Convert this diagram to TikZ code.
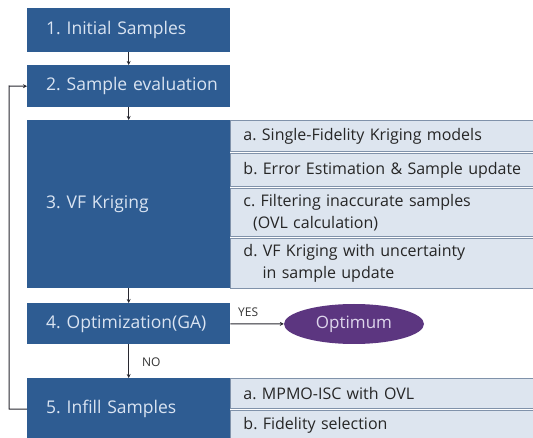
\documentclass[tikz,border=0pt]{standalone}
\usepackage{fontspec}
\setmainfont{Open Sans}
\usetikzlibrary{arrows.meta,shapes.geometric}
\definecolor{boxblue}{RGB}{46,92,146}
\definecolor{boxtext}{RGB}{218,228,242}
\definecolor{rowfill}{RGB}{221,229,239}
\definecolor{rowline}{RGB}{128,146,170}
\definecolor{optpurple}{RGB}{92,54,128}
\definecolor{opttext}{RGB}{222,214,236}
\definecolor{linecol}{RGB}{40,40,48}
\begin{document}
\frenchspacing
\begin{tikzpicture}[x=1pt,y=-1pt,
  mainbox/.style={rectangle, fill=boxblue, text=boxtext, anchor=north west,
    minimum width=203pt, text width=165pt, inner xsep=19pt, inner ysep=0pt, align=left,
    font=\fontsize{17.5}{20}\selectfont},
  rowbox/.style={rectangle, fill=rowfill, draw=rowline, line width=0.9pt, anchor=north west,
    minimum width=303pt, text width=287pt, inner xsep=13pt, inner ysep=0pt, align=left,
    font=\fontsize{16}{22}\selectfont, text=black!85},
  conn/.style={draw=linecol, line width=1pt, -{Stealth[length=4pt,width=4pt]}},
  lbl/.style={font=\fontsize{12}{14}\selectfont, text=black!80, inner sep=0pt}]
\useasboundingbox (0,0) rectangle (533,438);
% rows
\node[rowbox, minimum height=31pt] (r3a) at (230,120) {a. Single-Fidelity Kriging models};
\node[rowbox, minimum height=33pt] (r3b) at (230,153) {b. Error Estimation \& Sample update};
\node[rowbox, minimum height=48pt] (r3c) at (230,188) {c. Filtering inaccurate samples\\\hspace*{0.6em}(OVL calculation)};
\node[rowbox, minimum height=50pt] (r3d) at (230,238) {d. VF Kriging with uncertainty\\\hspace*{1.2em}in sample update};
\node[rowbox, minimum height=30pt] (r5a) at (230,378) {a. MPMO-ISC with OVL};
\node[rowbox, minimum height=30pt] (r5b) at (230,410) {b. Fidelity selection};
% main boxes
\node[mainbox, minimum height=44pt] (b1) at (27,8) {\mbox{1. Initial Samples}};
\node[mainbox, minimum height=42pt] (b2) at (27,65) {\mbox{2. Sample evaluation}};
\node[mainbox, minimum height=168pt] (b3) at (27,120) {\mbox{3. VF Kriging}};
\node[mainbox, minimum height=41pt] (b4) at (27,303) {\mbox{4. Optimization(GA)}};
\node[mainbox, minimum height=62pt] (b5) at (27,378) {\mbox{5. Infill Samples}};
% optimum
\node[ellipse, fill=optpurple, text=opttext, minimum width=140pt, minimum height=40pt,
  inner sep=0pt, font=\fontsize{17}{19}\selectfont] (opt) at (354,324) {Optimum};
% connectors
\draw[conn] (b1) -- (b2);
\draw[conn] (b2) -- (b3);
\draw[conn] (b3) -- (b4);
\draw[conn] (b4) -- (b5);
\draw[conn] (b4) -- (opt);
\coordinate (fbbot) at (9,409);
\coordinate (fbtop) at (9,86);
\draw[conn] (b5.west) -- (fbbot) -- (fbtop) -- (b2.west);
% labels
\node[lbl, anchor=west] (yes) at (238,312) {YES};
\node[lbl, anchor=west] (no) at (142,362) {NO};
\end{tikzpicture}
\end{document}
